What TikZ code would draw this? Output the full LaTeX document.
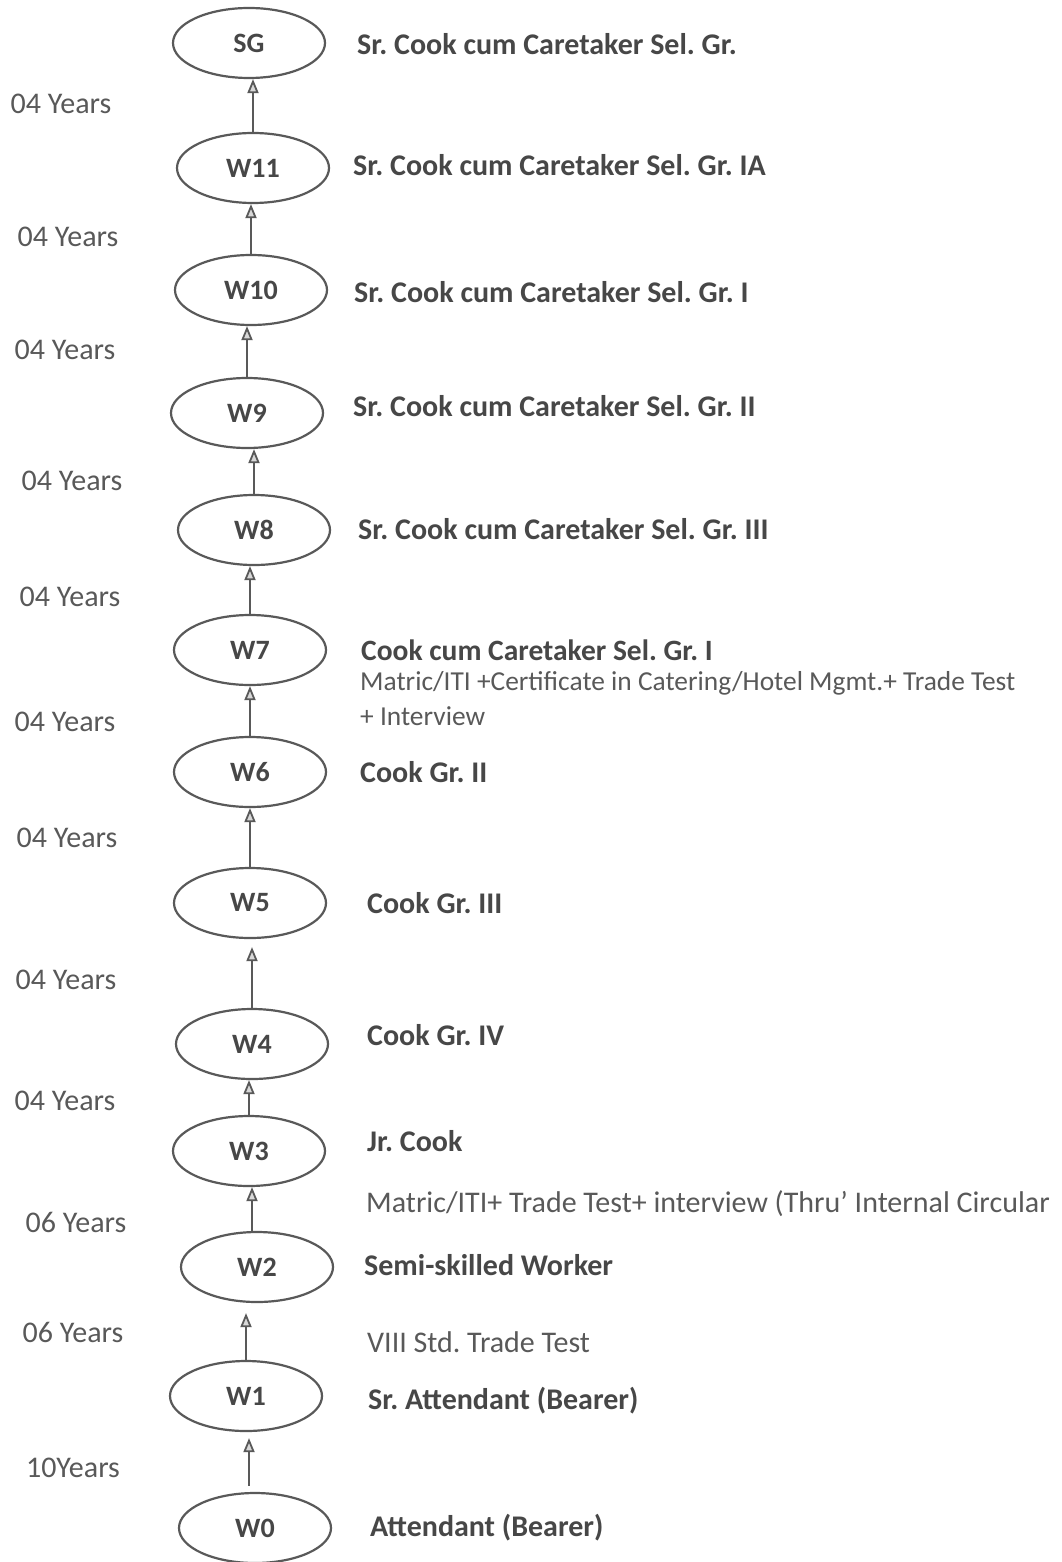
\documentclass[tikz,border=0pt]{standalone}
\usepackage{fontspec}
\setmainfont{Carlito}
\usetikzlibrary{arrows.meta,shapes.geometric}
\definecolor{txtd}{HTML}{474747}
\definecolor{txtl}{HTML}{595959}
\definecolor{lin}{HTML}{595959}
\definecolor{tipfill}{HTML}{D8D8D8}
\tikzset{
  grade/.style={ellipse, draw=lin, line width=2.2pt, minimum width=152pt, minimum height=70pt, inner sep=0pt, text=txtd, font=\fontsize{28}{32}\selectfont\bfseries},
  post/.style={anchor=west, inner sep=0pt, text=txtd, font=\fontsize{30}{34}\selectfont\bfseries},
  postb/.style={anchor=west, inner sep=0pt, text=txtd, font=\fontsize{29.5}{33}\selectfont\bfseries},
  note/.style={anchor=west, inner sep=0pt, text=txtl, font=\fontsize{30}{34}\selectfont},
  smallnote/.style={anchor=west, inner sep=0pt, text=txtl, font=\fontsize{27.4}{32}\selectfont},
  yrs/.style={anchor=center, inner sep=0pt, text=txtl, font=\fontsize{30}{34}\selectfont},
  up/.style={draw=lin, line width=2pt, -{Triangle[length=14pt, width=11pt, line width=1.8pt, fill=tipfill]}}
}
\begin{document}
\frenchspacing
\begin{tikzpicture}[x=1pt,y=-1pt]
\useasboundingbox[fill=white] (0,0) rectangle (1061,1562);
% grade ellipses
\node[grade] (SG)  at (249,43)   {SG};
\node[grade] (W11) at (253,168)  {W11};
\node[grade] (W10) at (251,290)  {W10};
\node[grade] (W9)  at (247,413)  {W9};
\node[grade] (W8)  at (254,530)  {W8};
\node[grade] (W7)  at (250,650)  {W7};
\node[grade] (W6)  at (250,772)  {W6};
\node[grade] (W5)  at (250,903)  {W5};
\node[grade] (W4)  at (252,1044) {W4};
\node[grade] (W3)  at (249,1151) {W3};
\node[grade] (W2)  at (257,1267) {W2};
\node[grade] (W1)  at (246,1396) {W1};
\node[grade] (W0)  at (255,1528) {W0};
% connectors
\draw[up] (W11.north) -- (W11.north |- SG.south);
\draw[up] (W10.north) -- (W10.north |- W11.south);
\draw[up] (W9.north)  -- (W9.north |- W10.south);
\draw[up] (W8.north)  -- (W8.north |- W9.south);
\draw[up] (W7.north)  -- (W7.north |- W8.south);
\draw[up] (W6.north)  -- (W6.north |- W7.south);
\draw[up] (W5.north)  -- (W5.north |- W6.south);
\draw[up, shorten >=8pt] (W4.north)  -- (W4.north |- W5.south);
\draw[up] (W3.north)  -- (W3.north |- W4.south);
\draw[up] ([xshift=-5pt]W2.north)  -- ([xshift=-5pt]W2.north |- W3.south);
\draw[up, shorten >=10pt] (W1.north)  -- (W1.north |- W2.south);
\draw[up, shorten >=6pt, shorten <=6pt] ([xshift=-6pt]W0.north)  -- ([xshift=-6pt]W0.north |- W1.south);
% years
\node[yrs] (y1)  at (61,104)   {04 Years};
\node[yrs] (y2)  at (68,237)   {04 Years};
\node[yrs] (y3)  at (65,350)   {04 Years};
\node[yrs] (y4)  at (72,481)   {04 Years};
\node[yrs] (y5)  at (70,597)   {04 Years};
\node[yrs] (y6)  at (65,722)   {04 Years};
\node[yrs] (y7)  at (67,838)   {04 Years};
\node[yrs] (y8)  at (66,980)   {04 Years};
\node[yrs] (y9)  at (65,1101)  {04 Years};
\node[yrs] (y10) at (76,1222)  {06 Years};
\node[yrs] (y11) at (73,1332)  {06 Years};
\node[yrs] (y12) at (73,1468)  {10Years};
% posts
\node[post] (pSG)  at (357,44)   {Sr. Cook cum Caretaker Sel. Gr.};
\node[post] (pW11) at (353,165)  {Sr. Cook cum Caretaker Sel. Gr. IA};
\node[post] (pW10) at (354,292)  {Sr. Cook cum Caretaker Sel. Gr. I};
\node[post] (pW9)  at (353,406)  {Sr. Cook cum Caretaker Sel. Gr. II};
\node[post] (pW8)  at (358,529)  {Sr. Cook cum Caretaker Sel. Gr. III};
\node[postb] (pW7)  at (361,650)  {Cook cum Caretaker Sel. Gr. I};
\node[smallnote] (nW7a) at (360,683)  {Matric/ITI +Certificate in Catering/Hotel Mgmt.+ Trade Test};
\node[smallnote] (nW7b) at (360,716)  {+ Interview};
\node[post] (pW6)  at (360,772)  {Cook Gr. II};
\node[post] (pW5)  at (367,903)  {Cook Gr. III};
\node[post] (pW4)  at (367,1035) {Cook Gr. IV};
\node[post] (pW3)  at (367,1141) {Jr. Cook};
\node[note] (nW3)  at (366,1204) {Matric/ITI+ Trade Test+ interview (Thru’ Internal Circular};
\node[post] (pW2)  at (364,1265) {Semi-skilled Worker};
\node[note] (nW2)  at (367,1342) {VIII Std. Trade Test};
\node[post] (pW1)  at (368,1401) {Sr. Attendant (Bearer)};
\node[post] (pW0)  at (370,1528) {Attendant (Bearer)};
\end{tikzpicture}
\end{document}
